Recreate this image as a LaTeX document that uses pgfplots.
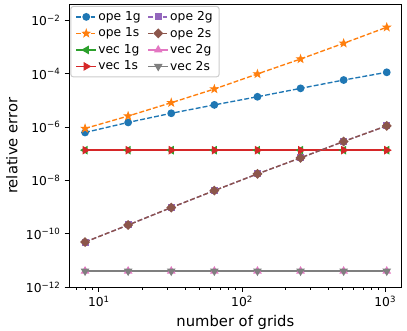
\documentclass[border=0pt]{standalone}
\usepackage{fontspec}
\setmainfont{DejaVu Sans}
\usepackage{pgfplots}
\usepackage{pgfplotstable}
\pgfplotsset{compat=1.18}
\usetikzlibrary{plotmarks}

\definecolor{c0}{HTML}{1F77B4}
\definecolor{c1}{HTML}{FF7F0E}
\definecolor{c2}{HTML}{2CA02C}
\definecolor{c3}{HTML}{D62728}
\definecolor{c4}{HTML}{9467BD}
\definecolor{c5}{HTML}{8C564B}
\definecolor{c6}{HTML}{E377C2}
\definecolor{c7}{HTML}{7F7F7F}

% filled five-point star like matplotlib's '*'
\pgfdeclareplotmark{fstar}{%
  \pgfpathmoveto{\pgfqpointpolar{90}{\pgfplotmarksize}}%
  \pgfpathlineto{\pgfqpointpolar{126}{0.4\pgfplotmarksize}}%
  \pgfpathlineto{\pgfqpointpolar{162}{\pgfplotmarksize}}%
  \pgfpathlineto{\pgfqpointpolar{198}{0.4\pgfplotmarksize}}%
  \pgfpathlineto{\pgfqpointpolar{234}{\pgfplotmarksize}}%
  \pgfpathlineto{\pgfqpointpolar{270}{0.4\pgfplotmarksize}}%
  \pgfpathlineto{\pgfqpointpolar{306}{\pgfplotmarksize}}%
  \pgfpathlineto{\pgfqpointpolar{342}{0.4\pgfplotmarksize}}%
  \pgfpathlineto{\pgfqpointpolar{18}{\pgfplotmarksize}}%
  \pgfpathlineto{\pgfqpointpolar{54}{0.4\pgfplotmarksize}}%
  \pgfpathclose
  \pgfusepathqfillstroke
}

\pgfplotsset{
  ope/.style={line width=1.1pt, dash pattern=on 4pt off 1.75pt, mark options={solid}},
  vec/.style={line width=1.1pt, solid},
  ope1g/.style={ope, color=c0, mark=*, mark size=2.6pt},
  ope1s/.style={ope, color=c1, mark=fstar, mark size=3.2pt, mark options={solid, line width=0.7pt}},
  vec1g/.style={vec, color=c2, mark=triangle*, mark size=3pt, mark options={rotate=90}},
  vec1s/.style={vec, color=c3, mark=triangle*, mark size=3pt, mark options={rotate=-90}},
  ope2g/.style={ope, color=c4, mark=square*, mark size=2.3pt},
  ope2s/.style={ope, color=c5, mark=square*, mark size=2.3pt, mark options={solid, rotate=45}},
  vec2g/.style={vec, color=c6, mark=triangle*, mark size=3pt},
  vec2s/.style={vec, color=c7, mark=triangle*, mark size=3pt, mark options={rotate=180}},
}

\pgfplotstableread{
n     ope1g    ope1s    vec1g    vec1s    ope2g    ope2s    vec2g    vec2s
8     6.3e-7   8.9e-7   1.37e-7  1.37e-7  4.97e-11 4.97e-11 4.06e-12 4.06e-12
16    1.5e-6   2.6e-6   1.37e-7  1.37e-7  2.16e-10 2.16e-10 4.06e-12 4.06e-12
32    3.3e-6   8.2e-6   1.37e-7  1.37e-7  9.7e-10  9.7e-10  4.06e-12 4.06e-12
64    6.8e-6   2.67e-5  1.37e-7  1.37e-7  4.2e-9   4.2e-9   4.06e-12 4.06e-12
128   1.37e-5  9.8e-5   1.37e-7  1.37e-7  1.77e-8  1.77e-8  4.06e-12 4.06e-12
256   2.83e-5  3.56e-4  1.37e-7  1.37e-7  7.05e-8  7.05e-8  4.06e-12 4.06e-12
512   5.8e-5   1.38e-3  1.37e-7  1.37e-7  2.9e-7   2.9e-7   4.06e-12 4.06e-12
1024  1.13e-4  5.5e-3   1.37e-7  1.37e-7  1.12e-6  1.12e-6  4.06e-12 4.06e-12
}\errdata

\begin{document}
\begin{tikzpicture}
\begin{axis}[
  at={(0,0)}, anchor=south west,
  scale only axis, width=270.5pt, height=230.1pt,
  xmode=log, ymode=log,
  xmin=6.18, xmax=1303, ymin=1e-12, ymax=0.0398,
  xtick={10,100,1000},
  xticklabels={10\textsuperscript{1},10\textsuperscript{2},10\textsuperscript{3}},
  minor xtick={7,8,9,20,30,40,50,60,70,80,90,200,300,400,500,600,700,800,900},
  ytick={1e-12,1e-10,1e-8,1e-6,1e-4,1e-2},
  yticklabels={10\textsuperscript{−12},10\textsuperscript{−10},10\textsuperscript{−8},10\textsuperscript{−6},10\textsuperscript{−4},10\textsuperscript{−2}},
  yminorticks=false,
  tick pos=left, tick align=outside,
  major tick length=3.5pt, minor tick length=2pt,
  every tick/.style={black, line width=0.8pt},
  every minor tick/.style={black, line width=0.6pt},
  axis line style={line width=0.8pt},
  tick label style={font=\fontsize{10}{12}\selectfont},
  label style={font=\fontsize{12}{14}\selectfont},
  xlabel={number of grids}, ylabel={relative error},
  legend columns=2, legend cell align=left,
  legend style={at={(0.004,0.994)}, anchor=north west, draw=black!20,
    line width=0.8pt, rounded corners=2pt, fill=white,
    font=\fontsize{10}{12}\selectfont, inner xsep=4pt, inner ysep=3pt,
    row sep=2.5pt, nodes={inner xsep=1.2pt, inner ysep=1pt},
    /tikz/every even column/.append style={column sep=4.5pt}},
  legend image code/.code={\draw[mark repeat=2,mark phase=2,sharp corners]
    plot coordinates {(0pt,0pt) (8pt,0pt) (16pt,0pt)};},
]
\addplot[ope1g, forget plot] table[x=n, y=ope1g] {\errdata};
\addplot[ope1s, forget plot] table[x=n, y=ope1s] {\errdata};
\addplot[vec1g, forget plot] table[x=n, y=vec1g] {\errdata};
\addplot[vec1s, forget plot] table[x=n, y=vec1s] {\errdata};
\addplot[ope2g, forget plot] table[x=n, y=ope2g] {\errdata};
\addplot[ope2s, forget plot] table[x=n, y=ope2s] {\errdata};
\addplot[vec2g, forget plot] table[x=n, y=vec2g] {\errdata};
\addplot[vec2s, forget plot] table[x=n, y=vec2s] {\errdata};

\addlegendimage{ope1g}\addlegendentry{ope 1g}
\addlegendimage{ope2g}\addlegendentry{ope 2g}
\addlegendimage{ope1s}\addlegendentry{ope 1s}
\addlegendimage{ope2s}\addlegendentry{ope 2s}
\addlegendimage{vec1g}\addlegendentry{vec 1g}
\addlegendimage{vec2g}\addlegendentry{vec 2g}
\addlegendimage{vec1s}\addlegendentry{vec 1s}
\addlegendimage{vec2s}\addlegendentry{vec 2s}
\end{axis}
\pgfresetboundingbox
\path (-56.1pt,-35.5pt) rectangle (274.8pt,233.6pt);
\end{tikzpicture}
\end{document}
